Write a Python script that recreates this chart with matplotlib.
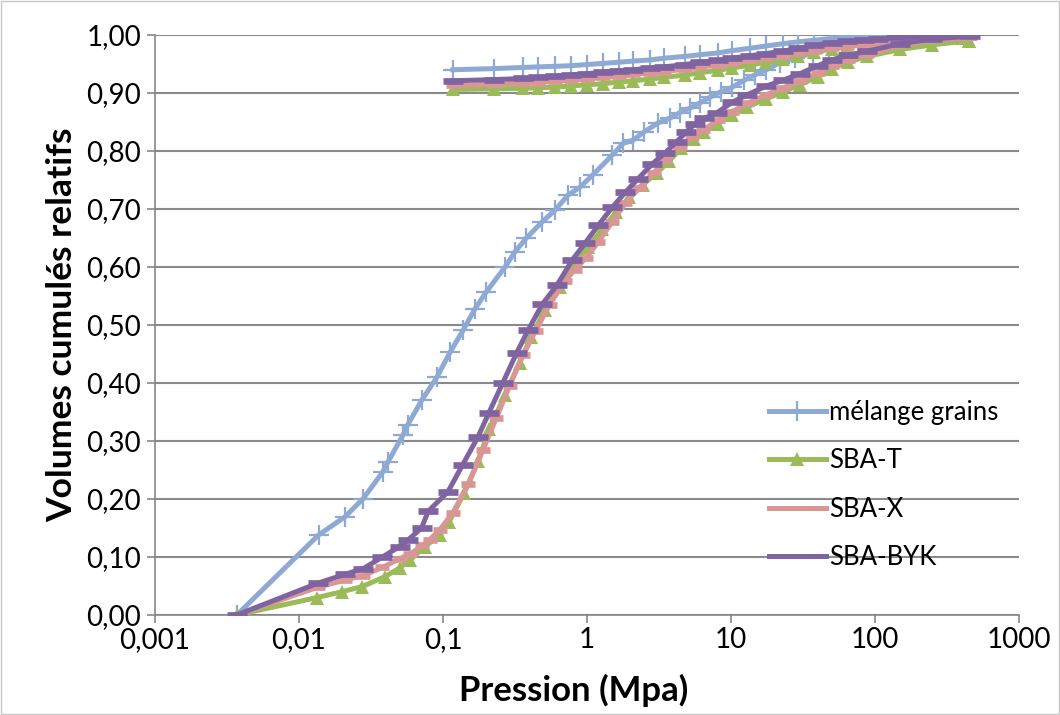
import matplotlib
matplotlib.use("Agg")
import matplotlib.pyplot as plt
from matplotlib.ticker import FixedLocator, FuncFormatter, NullLocator
from matplotlib.lines import Line2D
import matplotlib.patches as patches

# intrusion branches (pressure in MPa, cumulated relative volume)
p_mel_in = [0.0037, 0.0137, 0.0208, 0.0278, 0.0383, 0.0415, 0.0527, 0.057, 0.0715, 0.0908,
            0.112, 0.138, 0.167, 0.2, 0.27, 0.316, 0.38, 0.49, 0.6, 0.74, 0.9, 1.1, 1.5,
            1.78, 2.1, 2.5, 3.1, 3.8, 4.4, 5.2, 6.1, 7.2, 8.5, 10.2, 12.4, 14.6, 17.6, 21.8,
            28, 37, 48, 62, 80, 120, 200, 300, 450]
v_mel_in = [0, 0.138, 0.169, 0.20, 0.247, 0.264, 0.31, 0.328, 0.371, 0.41,
            0.453, 0.491, 0.528, 0.557, 0.60, 0.626, 0.65, 0.678, 0.698, 0.724, 0.738, 0.759, 0.793,
            0.813, 0.819, 0.833, 0.848, 0.857, 0.866, 0.874, 0.883, 0.893, 0.902, 0.91, 0.922, 0.931,
            0.94, 0.952, 0.96, 0.969, 0.978, 0.986, 0.992, 0.997, 0.999, 1.0, 1.0]

p_t_in = [0.0037, 0.0133, 0.0198, 0.0275, 0.0395, 0.05, 0.059, 0.075, 0.095, 0.11, 0.14, 0.175,
          0.21, 0.27, 0.34, 0.41, 0.51, 0.65, 0.82, 1.02, 1.28, 1.6, 1.97, 2.45, 3.05, 3.7, 4.5,
          5.5, 6.5, 8.1, 10.2, 13, 17.6, 23, 30, 40, 50, 65, 88, 150, 250, 450]
v_t_in = [0, 0.03, 0.04, 0.049, 0.066, 0.081, 0.095, 0.118, 0.138, 0.16, 0.21, 0.265,
          0.32, 0.38, 0.435, 0.48, 0.525, 0.565, 0.605, 0.635, 0.665, 0.695, 0.72, 0.742, 0.762,
          0.782, 0.805, 0.82, 0.833, 0.847, 0.862, 0.876, 0.89, 0.902, 0.914, 0.928, 0.942, 0.953,
          0.963, 0.975, 0.983, 0.99]

p_x_in = [0.0037, 0.0136, 0.0208, 0.028, 0.038, 0.05, 0.059, 0.072, 0.081, 0.095, 0.117, 0.15,
          0.19, 0.235, 0.29, 0.36, 0.44, 0.55, 0.7, 0.82, 0.98, 1.2, 1.5, 1.85, 2.3, 2.9, 3.5,
          4.4, 5.4, 6.4, 8.1, 10.2, 13, 17.6, 23, 30, 40, 50, 65, 88, 150, 250, 460]
v_x_in = [0, 0.048, 0.06, 0.068, 0.082, 0.097, 0.105, 0.12, 0.13, 0.147, 0.176, 0.225,
          0.285, 0.34, 0.395, 0.448, 0.49, 0.535, 0.575, 0.595, 0.615, 0.643, 0.678, 0.71, 0.736,
          0.762, 0.784, 0.807, 0.824, 0.836, 0.853, 0.868, 0.882, 0.897, 0.909, 0.92, 0.934, 0.946,
          0.956, 0.966, 0.982, 0.991, 0.996]

p_byk_in = [0.0037, 0.0136, 0.0208, 0.028, 0.038, 0.05, 0.057, 0.071, 0.079, 0.108, 0.137, 0.175,
            0.208, 0.26, 0.325, 0.39, 0.49, 0.62, 0.79, 0.97, 1.2, 1.5, 1.85, 2.26, 2.85, 3.5,
            4.2, 4.9, 5.6, 6.5, 8, 10.2, 13, 17.6, 23, 30, 40, 50, 65, 88, 150, 250, 460]
v_byk_in = [0, 0.055, 0.07, 0.08, 0.10, 0.118, 0.129, 0.15, 0.179, 0.212, 0.259, 0.307,
            0.348, 0.40, 0.452, 0.491, 0.536, 0.569, 0.612, 0.641, 0.672, 0.703, 0.729, 0.752,
            0.778, 0.797, 0.816, 0.833, 0.846, 0.856, 0.866, 0.884, 0.897, 0.912, 0.922, 0.933,
            0.947, 0.957, 0.965, 0.972, 0.985, 0.993, 0.998]

# extrusion branches, shared pressure steps
p_out = [450, 410, 370, 310, 240, 183, 140, 105, 84, 64, 50, 38, 29, 23, 17.6, 13.5, 10.2,
         8.1, 6.1, 4.8, 3.45, 2.75, 2.1, 1.66, 1.3, 1.0, 0.77, 0.6, 0.46, 0.36, 0.226, 0.117]
v_mel_out = [1.0, 1.0, 1.0, 1.0, 1.0, 1.0, 1.0, 1.0, 0.999, 0.997, 0.994, 0.991, 0.988, 0.985,
             0.981, 0.977, 0.973, 0.969, 0.966, 0.963, 0.96, 0.957, 0.955, 0.953, 0.951, 0.949,
             0.947, 0.946, 0.945, 0.944, 0.942, 0.94]
v_t_out = [0.99, 0.995, 0.997, 0.998, 0.997, 0.995, 0.993, 0.99, 0.986, 0.981, 0.976, 0.97,
           0.964, 0.958, 0.953, 0.948, 0.943, 0.939, 0.935, 0.931, 0.927, 0.924, 0.921, 0.919,
           0.916, 0.914, 0.912, 0.91, 0.909, 0.908, 0.907, 0.906]
v_x_out = [0.997, 0.997, 0.996, 0.995, 0.993, 0.991, 0.988, 0.985, 0.983, 0.98, 0.977, 0.973,
           0.969, 0.964, 0.96, 0.956, 0.952, 0.948, 0.945, 0.941, 0.937, 0.935, 0.932, 0.929,
           0.927, 0.924, 0.922, 0.92, 0.918, 0.917, 0.915, 0.913]
v_byk_out = [1.0, 1.0, 1.0, 1.0, 0.999, 0.998, 0.996, 0.993, 0.991, 0.989, 0.986, 0.982,
             0.977, 0.972, 0.968, 0.964, 0.96, 0.956, 0.953, 0.949, 0.945, 0.943, 0.94, 0.938,
             0.936, 0.933, 0.931, 0.929, 0.927, 0.925, 0.923, 0.921]

labels = ["mélange grains", "SBA-T", "SBA-X", "SBA-BYK"]
colors = ["#8eaad4", "#9bbb59", "#d99694", "#8064a2"]

x_ticks = [0.001, 0.01, 0.1, 1, 10, 100, 1000]
x_ticklabels = ["0,001", "0,01", "0,1", "1", "10", "100", "1000"]

plt.rcParams['font.family'] = ['Lato', 'DejaVu Sans']

fig = plt.figure(figsize=(10.6, 7.15), dpi=100)
ax = fig.add_axes([0.1462, 0.1399, 0.8151, 0.8112])

LW = 3.6
styles = [
    dict(marker="+", markersize=14, mew=1.6),
    dict(marker="^", markersize=10.5, mew=0),
    dict(marker="_", markersize=10, mew=4.8),
    dict(marker="_", markersize=15, mew=4.8),
]
series = [
    (p_mel_in + p_out, v_mel_in + v_mel_out),
    (p_t_in + p_out, v_t_in + v_t_out),
    (p_x_in + p_out, v_x_in + v_x_out),
    (p_byk_in + p_out, v_byk_in + v_byk_out),
]
for (p, v), mk, col in zip(series, styles, colors):
    ax.plot(p, v, color=col, lw=LW, zorder=3, **mk)

ax.set_xscale("log")
ax.set_xlim(0.001, 1000)
ax.set_ylim(0, 1.0)
ax.xaxis.set_major_locator(FixedLocator(x_ticks))
ax.xaxis.set_minor_locator(NullLocator())
ax.set_xticklabels(x_ticklabels)
ax.set_yticks([i / 10 for i in range(11)])
ax.yaxis.set_major_formatter(FuncFormatter(lambda y, _: f"{y:.2f}".replace(".", ",")))
ax.tick_params(axis="x", labelsize=20, length=6, width=1.2, color="#888888", pad=3)
ax.tick_params(axis="y", labelsize=20, length=6, width=1.2, color="#888888", pad=4)

ax.grid(axis="y", color="#8a8a8a", lw=1.5)
ax.set_axisbelow(True)
for s in ["top", "right"]:
    ax.spines[s].set_visible(False)
for s in ["left", "bottom"]:
    ax.spines[s].set_color("#888888")
    ax.spines[s].set_linewidth(1.2)

ax.set_xlabel("Pression (Mpa)", fontsize=25, fontweight="bold")
ax.xaxis.set_label_coords(0.484, -0.102)
ax.set_ylabel("Volumes cumulés relatifs", fontsize=25.5, fontweight="bold", labelpad=6)

# legend: lines only for the dash-marker series, as in the original
handles = [
    Line2D([], [], color=colors[0], lw=LW, marker="+", markersize=14, mew=1.6),
    Line2D([], [], color=colors[1], lw=LW, marker="^", markersize=10.5, mew=0),
    Line2D([], [], color=colors[2], lw=LW),
    Line2D([], [], color=colors[3], lw=LW),
]
ax.legend(handles, labels, loc="upper left", bbox_to_anchor=(0.684, 0.41), frameon=False,
          fontsize=18.5, handlelength=2.2, handletextpad=0.15, labelspacing=0.9)

fig.patches.append(patches.Rectangle((0.001, 0.001), 0.998, 0.998, transform=fig.transFigure,
                                     fill=False, edgecolor="#c8c8c8", lw=1))

fig.savefig("out.png", dpi=100)
